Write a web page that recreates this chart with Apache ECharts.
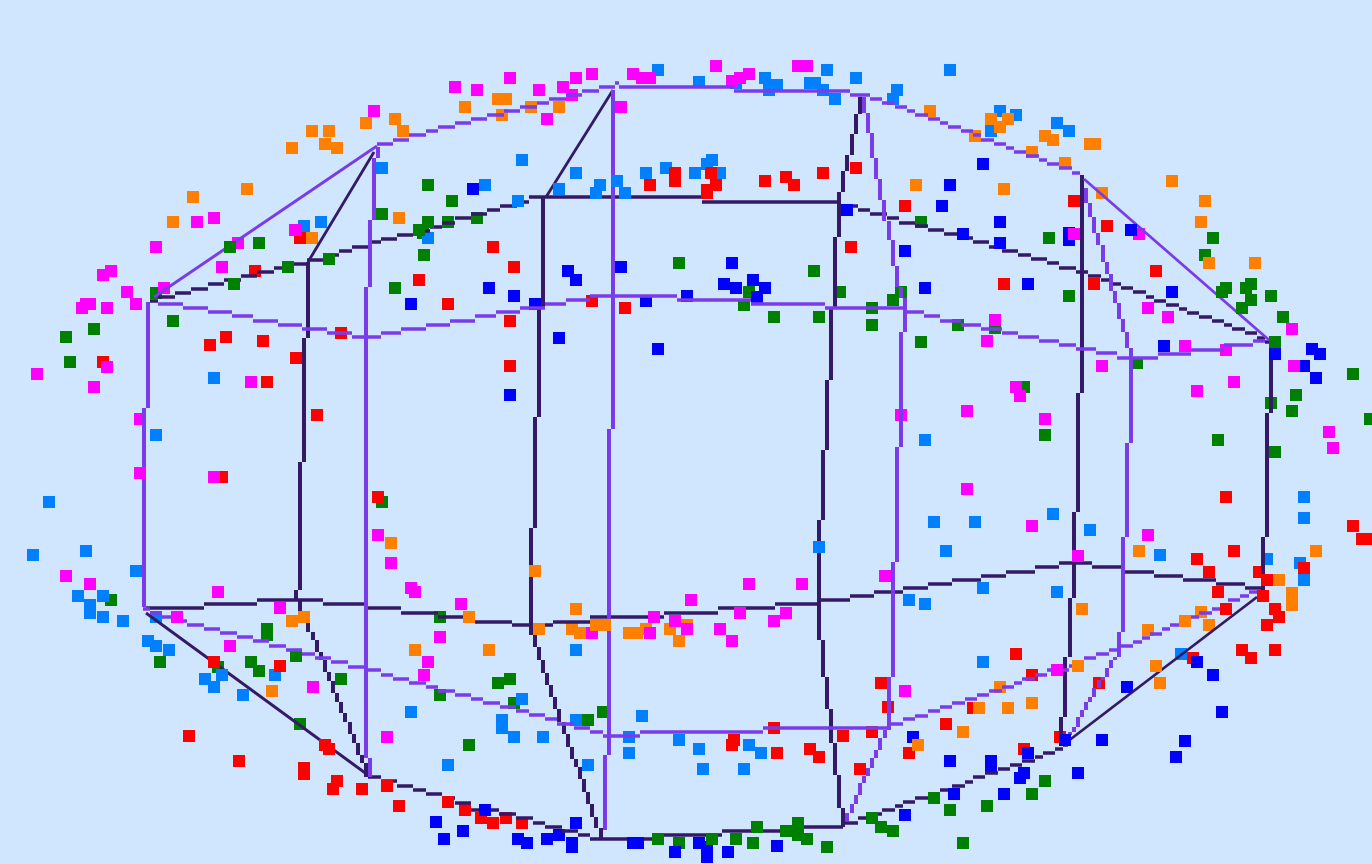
<!DOCTYPE html>
<html><head><meta charset="utf-8">
<style>html,body{margin:0;padding:0;background:#d0e6ff;width:100%;height:100%;overflow:hidden}#c{width:1372px;height:864px}</style>
<script src="https://cdn.jsdelivr.net/npm/echarts@6/dist/echarts.min.js"></script>
</head><body><div id="c"></div>
<script>
const greenPts=[[428,185],[452,201],[382,214],[428,222],[448,222],[419,230],[423,233],[230,247],[259,243],[329,259],[288,267],[424,255],[234,284],[395,288],[156,293],[173,321],[94,329],[66,337],[70,362],[477,218],[679,263],[814,271],[749,292],[744,305],[774,317],[819,317],[840,292],[872,308],[872,325],[893,300],[901,292],[921,342],[921,222],[1049,238],[1213,238],[1205,255],[1226,288],[1222,292],[1251,284],[1246,288],[1251,300],[1271,296],[1242,308],[1283,317],[1069,296],[1275,342],[958,325],[995,328],[1137,363],[1353,374],[1296,395],[1271,403],[1292,411],[1370,419],[1024,387],[1045,435],[1218,440],[1275,452],[382,502],[111,600],[160,662],[267,629],[267,635],[296,656],[251,662],[259,671],[218,667],[341,679],[440,617],[440,695],[300,724],[498,683],[510,679],[514,703],[469,745],[588,720],[603,712],[658,839],[679,843],[712,839],[736,839],[753,843],[757,827],[786,831],[798,823],[798,835],[807,839],[827,847],[872,818],[881,827],[893,831],[1045,781],[1032,794],[987,806],[934,798],[950,810],[963,843]];
const bluePts=[[411,304],[473,189],[847,210],[568,271],[576,280],[621,267],[732,263],[489,288],[514,296],[724,284],[736,288],[753,280],[765,288],[757,297],[687,296],[535,304],[646,301],[905,251],[559,338],[658,349],[510,395],[983,164],[950,185],[942,206],[1000,222],[963,234],[1000,243],[1069,233],[1069,240],[1131,230],[925,288],[1028,284],[1172,292],[1275,354],[1164,346],[1312,349],[1320,354],[1304,366],[1316,378],[436,822],[444,839],[485,810],[463,831],[518,839],[527,843],[547,839],[559,835],[572,843],[572,847],[576,823],[633,843],[638,843],[675,852],[699,843],[707,847],[707,857],[728,852],[777,846],[905,815],[913,737],[1197,662],[1213,675],[1127,687],[1222,712],[1065,740],[1102,740],[1185,741],[1176,757],[1028,753],[950,761],[991,761],[991,767],[1024,773],[1020,778],[1078,773],[954,794],[1004,794]];
const dodgerPts=[[382,168],[304,226],[321,222],[428,238],[214,378],[156,435],[658,70],[827,70],[856,78],[699,82],[736,83],[765,78],[769,90],[777,85],[810,83],[815,83],[823,90],[835,99],[897,90],[893,99],[522,160],[576,173],[485,185],[518,201],[559,189],[600,185],[596,193],[617,181],[625,193],[646,173],[666,168],[695,173],[707,164],[712,160],[720,173],[950,70],[1000,111],[1016,115],[991,131],[1057,123],[1069,131],[925,440],[49,502],[33,555],[86,551],[136,571],[78,596],[103,596],[90,605],[90,613],[103,617],[123,621],[156,617],[148,641],[156,646],[169,650],[205,679],[222,675],[214,687],[243,695],[275,675],[411,712],[448,765],[819,547],[909,600],[576,650],[522,699],[502,720],[502,728],[514,737],[543,737],[576,720],[642,716],[629,737],[629,753],[679,740],[699,749],[749,745],[761,753],[588,765],[703,769],[744,769],[934,522],[975,522],[1053,514],[1090,530],[946,551],[1304,497],[1304,518],[1160,555],[1267,559],[1300,563],[1304,580],[983,588],[1057,592],[925,604],[983,662],[1181,654]];
const redPts=[[300,238],[255,271],[419,280],[448,304],[341,333],[226,337],[210,345],[263,341],[296,358],[103,362],[267,382],[317,415],[675,173],[675,181],[650,185],[711,173],[716,185],[707,190],[707,193],[765,181],[786,177],[794,185],[823,173],[856,168],[905,206],[493,247],[851,247],[514,267],[592,301],[625,308],[510,321],[510,366],[1074,201],[1107,226],[1156,271],[1004,284],[1094,284],[222,477],[378,497],[214,662],[280,666],[189,736],[325,745],[329,749],[239,761],[304,768],[304,774],[337,781],[333,789],[362,789],[387,786],[399,806],[448,802],[465,810],[481,818],[493,823],[506,818],[522,823],[734,740],[732,745],[774,728],[777,753],[810,749],[819,757],[843,736],[872,732],[860,769],[881,683],[888,707],[909,753],[1226,497],[1353,526],[1362,539],[1366,539],[1234,551],[1197,559],[1209,572],[1304,568],[1259,572],[1267,580],[1218,592],[1263,596],[1275,609],[1279,617],[1226,609],[1267,625],[1242,650],[1251,658],[1275,650],[1016,654],[1032,675],[1193,658],[1099,683],[946,724],[973,708],[1060,737],[1024,749]];
const orangePts=[[312,131],[329,131],[325,144],[337,148],[292,148],[366,123],[395,119],[403,131],[247,189],[193,197],[173,222],[312,238],[399,218],[465,107],[498,99],[506,99],[502,115],[531,107],[559,107],[916,185],[930,111],[991,119],[1008,119],[1000,127],[975,136],[1045,136],[1053,140],[1090,144],[1095,144],[1032,152],[1065,163],[1172,181],[1102,193],[1205,201],[1201,222],[1209,263],[1255,263],[1004,189],[292,621],[304,617],[272,691],[391,543],[415,650],[535,571],[576,609],[469,617],[539,629],[572,629],[580,633],[596,625],[605,625],[629,633],[637,633],[646,629],[670,629],[687,625],[679,641],[489,650],[1139,551],[1316,551],[1279,580],[1292,593],[1292,605],[1082,609],[1201,612],[1185,621],[1209,625],[1148,630],[1078,666],[1156,666],[1160,683],[1000,687],[979,708],[1008,708],[1032,703],[963,732],[918,745]];
const magentaPts=[[455,87],[374,111],[214,218],[197,222],[156,247],[238,243],[295,230],[111,271],[103,275],[127,292],[164,288],[136,304],[90,304],[86,304],[82,308],[107,308],[222,267],[107,367],[37,374],[94,387],[251,382],[140,419],[510,78],[477,90],[539,90],[563,87],[576,78],[592,74],[572,95],[547,119],[621,107],[633,74],[642,78],[650,78],[716,66],[740,78],[732,81],[749,74],[798,66],[807,66],[901,415],[1074,234],[1139,234],[995,320],[987,341],[1148,308],[1168,317],[1292,329],[1185,346],[1226,350],[1102,366],[1294,366],[1234,382],[1197,391],[1016,387],[1020,396],[967,411],[1045,419],[1329,432],[1333,448],[140,473],[214,477],[66,576],[90,584],[218,592],[280,608],[177,617],[230,646],[313,687],[387,737],[378,535],[391,563],[411,588],[415,592],[461,604],[440,637],[428,662],[424,675],[654,617],[675,621],[687,629],[592,633],[650,633],[691,600],[749,584],[802,584],[885,576],[720,629],[740,613],[732,641],[786,613],[774,621],[905,691],[967,489],[1032,526],[1148,535],[1078,556],[1057,670]];

// marks that sit in front of the wireframe
const overLines=["329,259","288,267","234,284","230,247","428,222","419,230","518,201","559,189","596,193","617,181","625,193","707,190","707,193","847,210","1000,243","963,234","1094,284","1057,670","1275,342","1275,354","1222,292","1226,288","1251,300","1242,308","1131,230","140,473","177,617","214,662","222,675","243,695","325,745","329,749","387,786","448,802","304,617","292,621","469,617","535,571","539,629","596,625","605,625","654,617","740,613","786,613","819,547","522,699","485,810","576,823","658,839","712,839","736,839","757,827","786,831","798,823","872,818","633,843","638,843","699,843","1078,556","1185,621","1226,609","1065,740","1028,753","991,761","954,794","934,798","1078,666","1156,666","1197,662","1263,596","1267,580"];

// wireframe: near-horizontal chains as [run start, level], last entry closes the chain
const darkTop=[[150,301],[158,297],[175,293],[191,289],[208,284],[224,280],[241,276],[257,272],[274,268],[290,264],[307,260],[323,255],[339,251],[352,247],[368,242],[381,239],[397,235],[413,231],[430,227],[442,223],[455,218],[471,214],[487,210],[500,206],[517,202],[529,197],[702,202],[839,206],[858,210],[870,214],[887,218],[899,223],[915,226],[928,230],[944,234],[957,238],[973,242],[989,247],[1002,251],[1018,255],[1031,259],[1047,263],[1059,268],[1076,272],[1088,276],[1101,280],[1113,284],[1121,288],[1133,292],[1146,297],[1154,301],[1166,305],[1179,309],[1187,313],[1199,317],[1212,321],[1224,325],[1232,329],[1245,333],[1257,338],[1265,342],[1269,342]];
const darkMid=[[146,608],[204,604],[257,600],[323,604],[364,608],[401,613],[438,617],[475,622],[512,625],[553,622],[590,617],[664,613],[718,608],[775,604],[821,600],[850,596],[874,592],[903,588],[928,584],[952,580],[981,576],[1006,572],[1035,567],[1059,563],[1092,567],[1121,572],[1154,576],[1183,580],[1216,584],[1245,588],[1265,588]];
const darkLow=[[368,777],[381,781],[397,786],[413,790],[426,794],[442,798],[455,803],[471,810],[499,814],[516,818],[533,823],[545,827],[562,831],[578,835],[590,839],[664,835],[722,831],[780,827],[843,823],[858,818],[878,814],[882,810],[895,806],[903,802],[915,798],[928,794],[940,790],[952,786],[965,782],[973,777],[985,773],[998,769],[1010,765],[1022,761],[1035,757],[1043,753],[1055,749],[1063,745],[1068,745]];
const violetTop=[[377,144],[393,140],[409,135],[426,131],[438,127],[455,123],[471,119],[487,115],[504,111],[520,107],[537,103],[549,99],[566,95],[582,91],[599,87],[615,83],[619,87],[734,91],[850,95],[870,99],[882,103],[895,107],[907,111],[915,115],[928,119],[940,123],[948,127],[961,131],[973,135],[981,140],[994,144],[1006,148],[1014,152],[1026,156],[1039,160],[1047,164],[1059,168],[1072,173],[1080,173]];
const violetMid=[[158,304],[183,308],[208,312],[232,316],[253,321],[278,325],[302,329],[327,333],[352,337],[381,333],[401,329],[426,325],[450,321],[475,316],[496,312],[520,308],[545,304],[566,300],[590,296],[677,300],[751,304],[825,308],[907,312],[924,316],[940,321],[961,325],[981,329],[1002,333],[1018,337],[1039,341],[1059,345],[1076,349],[1096,353],[1117,358],[1158,354],[1191,350],[1224,345],[1253,341],[1265,341]];
const violetLow=[[143,609],[150,613],[162,617],[171,621],[187,625],[204,629],[220,633],[237,637],[253,641],[269,646],[286,650],[302,654],[315,658],[331,662],[348,667],[364,670],[381,675],[393,679],[409,683],[426,687],[438,691],[455,695],[471,699],[483,703],[500,707],[516,711],[529,715],[545,719],[557,724],[574,728],[590,732],[603,736],[640,732],[763,728],[889,724],[903,719],[915,716],[928,711],[940,707],[952,703],[965,699],[977,695],[989,691],[1002,687],[1014,683],[1022,679],[1035,675],[1047,670],[1069,666],[1072,662],[1084,658],[1096,654],[1109,650],[1121,646],[1133,642],[1142,638],[1150,634],[1162,629],[1170,625],[1179,621],[1191,617],[1199,613],[1212,609],[1220,605],[1228,600],[1240,596],[1249,592],[1257,592]];
// near-vertical chains as [column, run start]
const darkCol1=[[308,262],[304,338],[300,462],[296,590],[300,600],[304,612],[308,622],[313,632],[317,640],[321,652],[325,660],[329,672],[333,681],[337,693],[341,702],[345,713],[350,722],[354,734],[358,743],[362,755],[366,763],[366,777]];
const darkCol2=[[543,197],[539,307],[535,417],[531,528],[535,635],[539,647],[543,660],[547,673],[551,685],[555,697],[559,709],[564,722],[568,734],[572,747],[576,759],[580,767],[584,779],[588,792],[592,804],[596,817],[601,828],[601,839]];
const darkCol3=[[860,97],[856,114],[852,134],[847,155],[843,171],[839,192],[835,237],[831,307],[827,380],[823,450],[819,520],[823,640],[827,677],[831,709],[835,743],[839,775],[843,808],[843,827]];
const darkCol4=[[1082,175],[1078,393],[1074,512],[1070,598],[1065,657],[1061,717],[1061,745]];
const darkCol5=[[1271,342],[1267,413],[1263,537],[1263,590]];
const violetCol1=[[148,302],[144,408],[144,607]];
const violetCol2=[[378,147],[374,158],[370,220],[366,287],[370,758],[370,777]];
const violetCol3=[[613,90],[609,429],[605,755],[605,830]];
const violetCol4=[[864,97],[868,113],[872,133],[876,158],[880,179],[884,200],[889,221],[893,240],[897,266],[901,287],[905,298],[901,332],[897,447],[893,562],[889,677],[885,730],[880,738],[876,750],[872,758],[868,768],[864,776],[860,783],[856,795],[852,804],[847,813],[847,821]];
const violetCol5=[[1086,188],[1090,203],[1094,217],[1098,233],[1103,245],[1107,262],[1111,274],[1115,291],[1119,303],[1123,319],[1127,332],[1131,348],[1127,443],[1123,537],[1119,632],[1115,657],[1111,660],[1107,668],[1103,677],[1099,680],[1094,688],[1090,697],[1086,702],[1082,710],[1078,717],[1074,727],[1070,732],[1070,735]];
// straight slanted edges
const darkSlant=[[[374,152],[308,262]],[[613,90],[546,197]],[[146,613],[368,775]],[[1063,745],[1257,597]]];
const violetSlant=[[[154,297],[368,152],[377,146]],[[1084,179],[1269,340]]];

const DARK='#341a66',VIOLET='#7a3ce8';
const GAP=['-','-'];
function hRuns(a){const o=[];for(let i=0;i<a.length-1;i++){o.push([a[i][0],a[i][1]],[a[i+1][0],a[i][1]],GAP);}return o;}
function vRuns(a){const o=[];for(let i=0;i<a.length-1;i++){o.push([a[i][0],a[i][1]],[a[i][0],a[i+1][1]],GAP);}return o;}
function pts(name,arr,color,front){
  return {type:'scatter',name,symbol:'rect',symbolSize:12,silent:true,z:front?6:2,
    data:arr.filter(p=>overLines.includes(p[0]+','+p[1])===front),itemStyle:{color,opacity:1}};
}
function chain(data,color,width){
  return {type:'line',data,connectNulls:false,showSymbol:false,symbol:'none',silent:true,z:color===DARK?3:4,
    lineStyle:{color,width,cap:'butt',join:'miter'}};
}
const colored=[['green',greenPts,'#008000'],['blue',bluePts,'#0000ff'],['dodger',dodgerPts,'#0080ff'],['red',redPts,'#ff0000'],['orange',orangePts,'#ff8000'],['magenta',magentaPts,'#ff00ff']];
const series=[];
colored.forEach(c=>{series.push(pts(c[0],c[1],c[2],false));series.push(pts(c[0],c[1],c[2],true));});
[darkTop,darkMid,darkLow].forEach(d=>series.push(chain(hRuns(d),DARK,3.6)));
[violetTop,violetMid,violetLow].forEach(d=>series.push(chain(hRuns(d),VIOLET,3.6)));
[darkCol1,darkCol2,darkCol3,darkCol4,darkCol5].forEach(d=>series.push(chain(vRuns(d),DARK,4)));
[violetCol1,violetCol2,violetCol3,violetCol4,violetCol5].forEach(d=>series.push(chain(vRuns(d),VIOLET,4)));
darkSlant.forEach(d=>series.push(chain(d,DARK,2.8)));
violetSlant.forEach(d=>series.push(chain(d,VIOLET,2.8)));

const chart=echarts.init(document.getElementById('c'),null,{renderer:'canvas'});
chart.setOption({
  backgroundColor:'#d0e6ff',animation:false,
  grid:{left:0,right:0,top:0,bottom:0},
  xAxis:{type:'value',min:0,max:1372,show:false},
  yAxis:{type:'value',min:0,max:864,inverse:true,show:false},
  series
});
</script></body></html>
